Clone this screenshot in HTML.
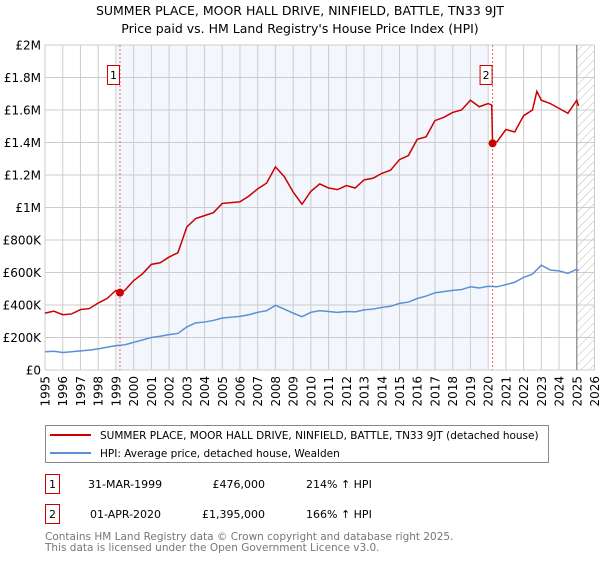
<!DOCTYPE html>
<html><head><meta charset="utf-8"><style>
body{margin:0;background:#fff;font-family:"DejaVu Sans","Liberation Sans",sans-serif;}
svg text{font-family:"DejaVu Sans","Liberation Sans",sans-serif;}
</style></head><body>
<svg id="chart" width="600" height="560" xmlns="http://www.w3.org/2000/svg">
<defs><pattern id="hatch" patternUnits="userSpaceOnUse" width="6" height="6" patternTransform="rotate(45)"><line x1="0" y1="0" x2="0" y2="6" stroke="#bbb" stroke-width="1"/></pattern></defs>
<text x="300" y="15" text-anchor="middle" font-size="12.5">SUMMER PLACE, MOOR HALL DRIVE, NINFIELD, BATTLE, TN33 9JT</text>
<text x="300" y="33" text-anchor="middle" font-size="12.5">Price paid vs. HM Land Registry's House Price Index (HPI)</text>
<g id="plot"></g>
<g>
<rect x="45.5" y="425.5" width="503" height="37" fill="#fff" stroke="#888"/>
<line x1="50" y1="435" x2="91" y2="435" stroke="#cc0000" stroke-width="2"/>
<text x="100" y="439" font-size="10.5">SUMMER PLACE, MOOR HALL DRIVE, NINFIELD, BATTLE, TN33 9JT (detached house)</text>
<line x1="50" y1="453" x2="91" y2="453" stroke="#5b8fd6" stroke-width="2"/>
<text x="100" y="457" font-size="10.5">HPI: Average price, detached house, Wealden</text>
</g>
<g font-size="11">
<rect x="45.5" y="474.5" width="14" height="19" fill="#fff" stroke="#cc0000"/><text x="52.5" y="488" text-anchor="middle">1</text>
<text x="88" y="488">31-MAR-1999</text><text x="265" y="488" text-anchor="end">£476,000</text><text x="306" y="488">214% ↑ HPI</text>
<rect x="45.5" y="504.5" width="14" height="19" fill="#fff" stroke="#cc0000"/><text x="52.5" y="518" text-anchor="middle">2</text>
<text x="90" y="518">01-APR-2020</text><text x="265" y="518" text-anchor="end">£1,395,000</text><text x="306" y="518">166% ↑ HPI</text>
</g>
<text x="45" y="540" font-size="10.5" fill="#777">Contains HM Land Registry data © Crown copyright and database right 2025.</text>
<text x="45" y="551" font-size="10.5" fill="#777">This data is licensed under the Open Government Licence v3.0.</text>
</svg>
<script>
const hpiYears=[1995,1995.5,1996,1996.5,1997,1997.5,1998,1998.5,1999,1999.5,2000,2000.5,2001,2001.5,2002,2002.5,2003,2003.5,2004,2004.5,2005,2005.5,2006,2006.5,2007,2007.5,2008,2008.5,2009,2009.5,2010,2010.5,2011,2011.5,2012,2012.5,2013,2013.5,2014,2014.5,2015,2015.5,2016,2016.5,2017,2017.5,2018,2018.5,2019,2019.5,2020,2020.5,2021,2021.5,2022,2022.5,2023,2023.5,2024,2024.5,2025,2025.1];
const hpiValues=[112,115,108,112,118,122,130,140,150,155,170,185,200,208,218,225,265,290,295,305,320,325,330,340,355,365,398,375,350,328,355,365,360,355,360,358,370,375,385,392,410,418,440,455,475,482,490,495,512,505,515,512,525,540,570,590,645,615,610,595,620,612];
const redYears=[1995,1995.5,1996,1996.5,1997,1997.5,1998,1998.5,1999,1999.25,1999.5,2000,2000.5,2001,2001.5,2002,2002.5,2003,2003.5,2004,2004.5,2005,2005.5,2006,2006.5,2007,2007.5,2008,2008.5,2009,2009.5,2010,2010.5,2011,2011.5,2012,2012.5,2013,2013.5,2014,2014.5,2015,2015.5,2016,2016.5,2017,2017.5,2018,2018.5,2019,2019.5,2020,2020.2,2020.25,2020.5,2021,2021.5,2022,2022.5,2022.75,2023,2023.5,2024,2024.5,2025,2025.1];
const redValues=[350,362,340,345,372,378,412,440,490,476,490,550,592,650,660,695,722,880,932,950,968,1025,1030,1035,1070,1115,1150,1250,1190,1095,1020,1100,1145,1120,1110,1135,1120,1170,1180,1210,1230,1295,1320,1420,1435,1535,1555,1585,1600,1660,1620,1640,1630,1395,1405,1480,1465,1565,1600,1715,1660,1640,1610,1580,1660,1625];
const saleYears=[1999.23,2020.25];
const saleValues=[476,1395];
const saleLabels=["1","2"];
const yTicks=[0,200,400,600,800,1000,1200,1400,1600,1800,2000];
const yTickLabels=["£0","£200K","£400K","£600K","£800K","£1M","£1.2M","£1.4M","£1.6M","£1.8M","£2M"];
const xTicks=[1995,1996,1997,1998,1999,2000,2001,2002,2003,2004,2005,2006,2007,2008,2009,2010,2011,2012,2013,2014,2015,2016,2017,2018,2019,2020,2021,2022,2023,2024,2025,2026];

const L=45,R=594.5,T=45,B=370,X0=1995,X1=2026,YMAX=2000;
const X=v=>L+(v-X0)/(X1-X0)*(R-L);
const Y=v=>B-v/YMAX*(B-T);
const NS="http://www.w3.org/2000/svg";
const g=document.getElementById('plot');
function mk(tag,attrs,parent){const e=document.createElementNS(NS,tag);for(const k in attrs)e.setAttribute(k,attrs[k]);(parent||g).appendChild(e);return e;}

const bg=mk('rect',{x:X(1999.0),y:T,width:X(2020.0)-X(1999.0),height:B-T,fill:'#f3f6fd'});


const hatch=mk('rect',{x:X(2025.0),y:T,width:R-X(2025.0),height:B-T,fill:'url(#hatch)'});



yTicks.forEach((t,i)=>{
  const ln=mk('line',{x1:L,x2:R,y1:Y(t),y2:Y(t),stroke:'#ccc','stroke-width':1});
  
  
  const tx=mk('text',{x:L-4,y:Y(t)+4.5,'text-anchor':'end','font-size':'12'});
  tx.textContent=yTickLabels[i];
  
  
});
xTicks.forEach(t=>{
  const ln=mk('line',{x1:X(t),x2:X(t),y1:T,y2:B,stroke:'#ccc','stroke-width':1});
  
  
  const tx=mk('text',{x:0,y:0,'text-anchor':'end','font-size':'12',transform:`translate(${X(t)+4.5},${B+6}) rotate(-90)`});
  tx.textContent=t;
  
  
});
const nl=mk('line',{x1:X(2025.0),x2:X(2025.0),y1:T,y2:B,stroke:'#888','stroke-width':1.2});



saleYears.forEach((s,i)=>{
  const ln=mk('line',{x1:X(s),x2:X(s),y1:T,y2:B,stroke:'#e66','stroke-width':1,'stroke-dasharray':'2,2'});
  
  
  const bx=mk('rect',{x:X(s)-12.5,y:65.5,width:12,height:19,fill:'#fff',stroke:'#cc0000'});
  
  
  const tx=mk('text',{x:X(s)-6.5,y:79,'text-anchor':'middle','font-size':'11'});
  tx.textContent=saleLabels[i];
  
  
});

const hp=mk('polyline',{points:hpiYears.map((y,i)=>X(y)+','+Y(hpiValues[i])).join(' '),fill:'none',stroke:'#5b8fd6','stroke-width':1.5});


const rp=mk('polyline',{points:redYears.map((y,i)=>X(y)+','+Y(redValues[i])).join(' '),fill:'none',stroke:'#cc0000','stroke-width':1.5});


saleYears.forEach((s,i)=>{
  const c=mk('circle',{cx:X(s),cy:Y(saleValues[i]),r:4,fill:'#cc0000'});
  
  
});
</script>
</body></html>
